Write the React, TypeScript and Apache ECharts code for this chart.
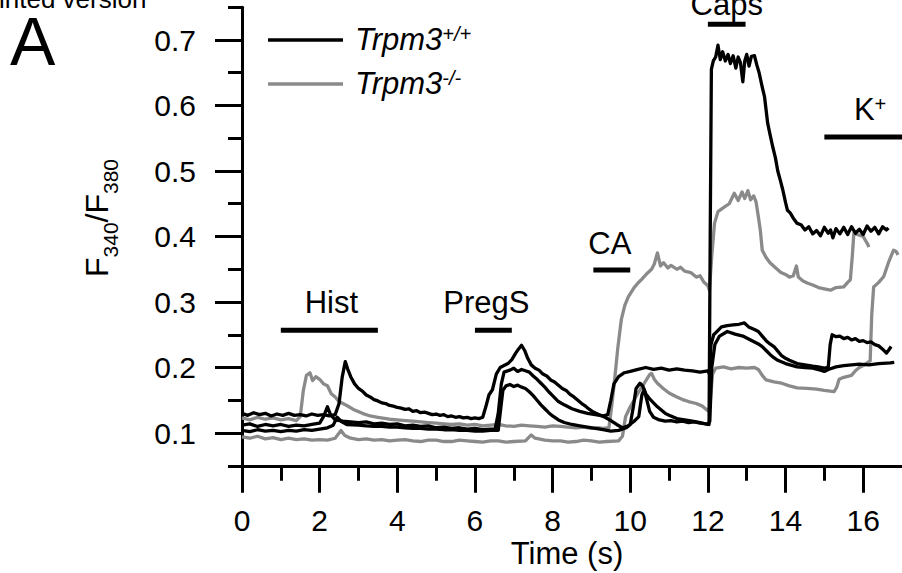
import React, { useEffect, useRef } from "react";
import * as echarts from "echarts";

const FONT = "'Liberation Sans', Arial, Helvetica, sans-serif";
const BLACK = "#000000";
const GRAY = "#8a8a8a";

// axis ticks
const xMajorTicks = [0, 2, 4, 6, 8, 10, 12, 14, 16];
const xMinorTicks = [1, 3, 5, 7, 9, 11, 13, 15];
const yMajorTicks = [0.1, 0.2, 0.3, 0.4, 0.5, 0.6, 0.7];
const yMinorTicks = [0.05, 0.15, 0.25, 0.35, 0.45, 0.55, 0.65, 0.75];

const groupNames = ["Trpm3+/+", "Trpm3-/-"];

// Trpm3+/+ traces (black) [time s, F340/F380]
const wt1 = [
  [0, 0.13], [0.15, 0.127], [0.3, 0.131], [0.45, 0.128], [0.6, 0.13], [0.75, 0.126], [0.9, 0.129], [1.05, 0.127],
  [1.2, 0.13], [1.35, 0.127], [1.5, 0.128], [1.65, 0.126], [1.8, 0.129], [1.95, 0.127], [2.1, 0.128], [2.25, 0.126],
  [2.4, 0.128], [2.5, 0.145], [2.58, 0.185], [2.66, 0.209], [2.72, 0.198], [2.8, 0.186], [2.9, 0.175], [3.0, 0.168],
  [3.1, 0.164], [3.2, 0.158], [3.3, 0.155], [3.4, 0.151], [3.5, 0.149], [3.6, 0.146], [3.7, 0.145], [3.8, 0.142],
  [3.9, 0.141], [4.0, 0.139], [4.1, 0.138], [4.2, 0.136], [4.3, 0.137], [4.4, 0.133], [4.5, 0.134], [4.6, 0.131],
  [4.7, 0.132], [4.8, 0.13], [4.9, 0.128], [5.0, 0.129], [5.1, 0.127], [5.2, 0.128], [5.3, 0.125], [5.4, 0.126],
  [5.5, 0.124], [5.6, 0.125], [5.7, 0.123], [5.8, 0.124], [5.9, 0.122], [6.0, 0.123], [6.1, 0.122], [6.2, 0.124],
  [6.28, 0.14], [6.36, 0.158], [6.45, 0.166], [6.55, 0.19], [6.65, 0.2], [6.75, 0.203], [6.85, 0.206], [6.95, 0.212],
  [7.05, 0.222], [7.12, 0.228], [7.2, 0.234], [7.28, 0.226], [7.36, 0.214], [7.45, 0.204], [7.55, 0.199], [7.65, 0.196],
  [7.75, 0.19], [7.85, 0.187], [7.95, 0.181], [8.05, 0.178], [8.15, 0.173], [8.25, 0.168], [8.35, 0.165], [8.45, 0.159],
  [8.55, 0.155], [8.65, 0.15], [8.75, 0.145], [8.85, 0.141], [8.95, 0.136], [9.05, 0.132], [9.2, 0.128], [9.35, 0.124],
  [9.5, 0.119], [9.65, 0.113], [9.8, 0.108], [9.95, 0.111], [10.1, 0.118], [10.22, 0.125], [10.3, 0.158], [10.36, 0.166],
  [10.42, 0.152], [10.5, 0.133], [10.6, 0.124], [10.75, 0.12], [10.9, 0.118], [11.05, 0.119], [11.2, 0.117], [11.35, 0.118],
  [11.5, 0.116], [11.65, 0.117], [11.8, 0.115], [11.95, 0.114], [12.03, 0.113], [12.06, 0.4], [12.09, 0.655], [12.14, 0.668],
  [12.2, 0.674], [12.26, 0.692], [12.32, 0.67], [12.38, 0.682], [12.45, 0.668], [12.52, 0.678], [12.58, 0.664], [12.65, 0.676],
  [12.72, 0.657], [12.78, 0.674], [12.84, 0.665], [12.9, 0.636], [12.95, 0.668], [13.0, 0.678], [13.06, 0.66], [13.12, 0.675],
  [13.2, 0.676], [13.26, 0.662], [13.32, 0.65], [13.4, 0.628], [13.46, 0.613], [13.54, 0.573], [13.6, 0.556], [13.67, 0.537],
  [13.74, 0.52], [13.8, 0.5], [13.87, 0.485], [13.93, 0.471], [14.0, 0.452], [14.05, 0.44], [14.12, 0.436], [14.2, 0.428],
  [14.3, 0.42], [14.4, 0.418], [14.5, 0.41], [14.6, 0.415], [14.7, 0.404], [14.8, 0.409], [14.9, 0.401], [15.0, 0.414],
  [15.1, 0.405], [15.16, 0.41], [15.22, 0.398], [15.3, 0.412], [15.4, 0.404], [15.5, 0.414], [15.6, 0.403], [15.7, 0.415],
  [15.8, 0.405], [15.9, 0.411], [16.0, 0.403], [16.1, 0.416], [16.2, 0.408], [16.3, 0.414], [16.4, 0.404], [16.5, 0.415],
  [16.6, 0.41], [16.65, 0.413],
];

const wt2 = [
  [0, 0.112], [0.2, 0.114], [0.4, 0.11], [0.6, 0.113], [0.8, 0.111], [1.0, 0.113], [1.2, 0.11], [1.4, 0.112],
  [1.6, 0.111], [1.8, 0.113], [2.0, 0.115], [2.1, 0.125], [2.2, 0.14], [2.28, 0.128], [2.4, 0.12], [2.6, 0.118],
  [2.8, 0.117], [3.0, 0.116], [3.2, 0.117], [3.4, 0.114], [3.6, 0.115], [3.8, 0.113], [4.0, 0.114], [4.2, 0.111],
  [4.4, 0.112], [4.6, 0.11], [4.8, 0.111], [5.0, 0.108], [5.2, 0.109], [5.4, 0.107], [5.6, 0.108], [5.8, 0.106],
  [6.0, 0.107], [6.2, 0.105], [6.4, 0.106], [6.52, 0.106], [6.6, 0.13], [6.68, 0.175], [6.75, 0.193], [6.9, 0.196],
  [7.0, 0.199], [7.1, 0.194], [7.2, 0.197], [7.3, 0.195], [7.4, 0.193], [7.5, 0.187], [7.6, 0.182], [7.7, 0.176],
  [7.8, 0.17], [7.9, 0.163], [8.0, 0.157], [8.15, 0.148], [8.3, 0.143], [8.5, 0.137], [8.7, 0.133], [8.9, 0.13],
  [9.1, 0.128], [9.3, 0.126], [9.42, 0.128], [9.5, 0.15], [9.58, 0.175], [9.7, 0.186], [9.85, 0.192], [10.0, 0.194],
  [10.2, 0.197], [10.4, 0.2], [10.6, 0.197], [10.8, 0.199], [11.0, 0.196], [11.2, 0.198], [11.4, 0.196], [11.6, 0.195],
  [11.8, 0.193], [12.0, 0.195], [12.04, 0.19], [12.08, 0.235], [12.15, 0.25], [12.25, 0.256], [12.35, 0.262], [12.5, 0.264],
  [12.65, 0.265], [12.8, 0.266], [12.94, 0.268], [13.05, 0.262], [13.2, 0.258], [13.3, 0.255], [13.4, 0.248], [13.5, 0.241],
  [13.6, 0.236], [13.7, 0.232], [13.8, 0.225], [13.9, 0.218], [14.0, 0.214], [14.1, 0.211], [14.3, 0.206], [14.5, 0.204],
  [14.7, 0.202], [14.84, 0.201], [15.0, 0.199], [15.1, 0.2], [15.15, 0.235], [15.2, 0.25], [15.3, 0.247], [15.4, 0.248],
  [15.5, 0.244], [15.6, 0.246], [15.7, 0.242], [15.8, 0.244], [15.9, 0.24], [16.0, 0.241], [16.1, 0.238], [16.2, 0.239],
  [16.3, 0.235], [16.4, 0.233], [16.5, 0.228], [16.6, 0.222], [16.65, 0.226], [16.72, 0.232],
];

const wt3 = [
  [0, 0.104], [0.2, 0.102], [0.4, 0.105], [0.6, 0.103], [0.8, 0.104], [1.0, 0.102], [1.2, 0.104], [1.4, 0.103],
  [1.6, 0.105], [1.8, 0.104], [2.0, 0.106], [2.2, 0.108], [2.35, 0.112], [2.45, 0.124], [2.55, 0.118], [2.7, 0.113],
  [3.0, 0.112], [3.2, 0.111], [3.4, 0.11], [3.6, 0.11], [3.8, 0.109], [4.0, 0.109], [4.2, 0.108], [4.4, 0.107],
  [4.6, 0.107], [4.8, 0.106], [5.0, 0.106], [5.2, 0.105], [5.4, 0.105], [5.6, 0.104], [5.8, 0.104], [6.0, 0.103],
  [6.2, 0.103], [6.4, 0.104], [6.6, 0.104], [6.65, 0.13], [6.72, 0.165], [6.8, 0.172], [6.9, 0.174], [7.0, 0.171],
  [7.1, 0.173], [7.2, 0.17], [7.3, 0.168], [7.4, 0.163], [7.5, 0.157], [7.6, 0.15], [7.7, 0.143], [7.8, 0.137],
  [7.9, 0.131], [8.0, 0.126], [8.15, 0.12], [8.3, 0.116], [8.5, 0.113], [8.7, 0.111], [8.9, 0.109], [9.1, 0.107],
  [9.3, 0.105], [9.5, 0.103], [9.7, 0.104], [9.9, 0.108], [10.0, 0.113], [10.08, 0.14], [10.15, 0.168], [10.25, 0.176],
  [10.32, 0.172], [10.4, 0.16], [10.5, 0.152], [10.6, 0.146], [10.7, 0.14], [10.8, 0.135], [10.9, 0.13], [11.0, 0.127],
  [11.2, 0.122], [11.4, 0.12], [11.6, 0.118], [11.8, 0.116], [12.0, 0.113], [12.05, 0.118], [12.1, 0.2], [12.18, 0.235],
  [12.3, 0.248], [12.5, 0.255], [12.7, 0.251], [12.9, 0.248], [13.1, 0.242], [13.3, 0.236], [13.4, 0.232], [13.5, 0.226],
  [13.6, 0.22], [13.7, 0.215], [13.8, 0.211], [14.0, 0.206], [14.3, 0.201], [14.5, 0.2], [14.7, 0.199], [14.9, 0.196],
  [15.0, 0.194], [15.1, 0.197], [15.3, 0.201], [15.5, 0.203], [15.7, 0.204], [15.9, 0.205], [16.15, 0.204], [16.4, 0.206],
  [16.7, 0.207], [16.8, 0.208],
];

// Trpm3-/- traces (gray)
const ko1 = [
  [0, 0.123], [0.2, 0.12], [0.4, 0.124], [0.6, 0.121], [0.8, 0.123], [1.0, 0.12], [1.2, 0.122], [1.4, 0.119],
  [1.5, 0.125], [1.58, 0.165], [1.66, 0.188], [1.75, 0.192], [1.82, 0.18], [1.9, 0.186], [2.0, 0.182], [2.1, 0.175],
  [2.2, 0.172], [2.3, 0.16], [2.4, 0.155], [2.5, 0.148], [2.7, 0.142], [2.9, 0.135], [3.1, 0.13], [3.3, 0.126],
  [3.5, 0.124], [3.8, 0.121], [4.0, 0.12], [4.2, 0.119], [4.4, 0.118], [4.6, 0.117], [4.8, 0.116], [5.0, 0.115],
  [5.2, 0.114], [5.4, 0.113], [5.6, 0.114], [5.8, 0.112], [6.0, 0.113], [6.2, 0.111], [6.4, 0.112], [6.6, 0.113],
  [6.8, 0.111], [7.0, 0.11], [7.2, 0.112], [7.4, 0.111], [7.6, 0.11], [7.8, 0.109], [8.0, 0.111], [8.2, 0.11],
  [8.4, 0.109], [8.6, 0.108], [8.8, 0.109], [9.0, 0.107], [9.2, 0.108], [9.3, 0.107], [9.45, 0.108], [9.52, 0.14],
  [9.58, 0.171], [9.68, 0.23], [9.77, 0.273], [9.86, 0.295], [9.95, 0.308], [10.1, 0.322], [10.2, 0.329], [10.3, 0.335],
  [10.44, 0.344], [10.55, 0.35], [10.62, 0.358], [10.7, 0.375], [10.78, 0.355], [10.86, 0.36], [10.97, 0.352], [11.05, 0.356],
  [11.2, 0.35], [11.3, 0.353], [11.4, 0.347], [11.56, 0.345], [11.7, 0.338], [11.8, 0.34], [11.9, 0.33], [12.0, 0.325],
  [12.04, 0.318], [12.1, 0.37], [12.17, 0.42], [12.26, 0.438], [12.4, 0.444], [12.55, 0.45], [12.68, 0.466], [12.78, 0.455],
  [12.88, 0.468], [12.95, 0.458], [13.03, 0.47], [13.1, 0.456], [13.18, 0.462], [13.24, 0.453], [13.3, 0.43], [13.35, 0.41],
  [13.4, 0.379], [13.5, 0.368], [13.6, 0.36], [13.75, 0.352], [13.88, 0.345], [14.0, 0.342], [14.1, 0.338], [14.2, 0.34],
  [14.28, 0.355], [14.33, 0.338], [14.45, 0.332], [14.56, 0.329], [14.7, 0.326], [14.85, 0.322], [15.0, 0.32], [15.16, 0.318],
  [15.3, 0.322], [15.5, 0.323], [15.6, 0.33], [15.67, 0.334], [15.72, 0.37], [15.76, 0.405], [15.85, 0.403], [16.0, 0.4],
  [16.1, 0.39], [16.15, 0.384],
];

const ko2 = [
  [0, 0.094], [0.2, 0.092], [0.4, 0.095], [0.6, 0.091], [0.8, 0.093], [1.0, 0.09], [1.2, 0.092], [1.4, 0.09],
  [1.6, 0.091], [1.8, 0.089], [2.0, 0.09], [2.2, 0.089], [2.4, 0.092], [2.55, 0.104], [2.65, 0.096], [2.8, 0.092],
  [3.0, 0.09], [3.2, 0.091], [3.4, 0.089], [3.6, 0.09], [3.8, 0.088], [4.0, 0.089], [4.2, 0.09], [4.4, 0.088],
  [4.6, 0.087], [4.8, 0.089], [5.0, 0.089], [5.2, 0.087], [5.4, 0.087], [5.6, 0.089], [5.8, 0.088], [6.0, 0.087],
  [6.2, 0.086], [6.4, 0.088], [6.6, 0.088], [6.8, 0.086], [7.0, 0.087], [7.3, 0.088], [7.45, 0.097], [7.55, 0.092],
  [7.8, 0.089], [8.0, 0.088], [8.2, 0.088], [8.4, 0.086], [8.6, 0.087], [8.8, 0.089], [9.0, 0.088], [9.2, 0.086],
  [9.4, 0.087], [9.7, 0.088], [9.8, 0.095], [9.88, 0.125], [10.0, 0.14], [10.1, 0.15], [10.2, 0.161], [10.35, 0.175],
  [10.5, 0.189], [10.55, 0.191], [10.62, 0.182], [10.7, 0.176], [10.85, 0.168], [11.0, 0.161], [11.2, 0.155], [11.35, 0.151],
  [11.5, 0.148], [11.7, 0.145], [11.86, 0.141], [12.0, 0.134], [12.05, 0.14], [12.12, 0.19], [12.2, 0.199], [12.4, 0.201],
  [12.6, 0.198], [12.8, 0.2], [13.0, 0.199], [13.2, 0.2], [13.3, 0.197], [13.4, 0.188], [13.5, 0.181], [13.7, 0.178],
  [13.9, 0.176], [14.1, 0.172], [14.3, 0.169], [14.55, 0.168], [14.8, 0.167], [15.0, 0.165], [15.25, 0.163], [15.32, 0.17],
  [15.38, 0.182], [15.5, 0.185], [15.7, 0.188], [15.8, 0.195], [15.9, 0.2], [16.0, 0.203], [16.1, 0.207], [16.18, 0.21],
  [16.22, 0.28], [16.27, 0.323], [16.4, 0.33], [16.53, 0.339], [16.65, 0.36], [16.78, 0.379], [16.85, 0.377], [16.9, 0.372],
];

// stimulus application bars
const stimNames = ["Hist", "PregS", "CA", "Caps", "K+"];
const stimStart = [1.0, 6.0, 9.05, 12.0, 15.0];
const stimEnd = [3.5, 6.95, 10.0, 12.97, 17.2];
const stimLevel = [0.257, 0.257, 0.349, 0.724, 0.552];

const labelGap: Record<string, number> = { Hist: 12, PregS: 12, CA: 11, Caps: 4, "K+": 9 };
const labelShift: Record<string, number> = { Hist: 2, PregS: -7, CA: -2, Caps: 0, "K+": 3 };

function measure(text: string, font: string): number {
  const ctx = document.createElement("canvas").getContext("2d");
  if (!ctx) return text.length * 16;
  ctx.font = font;
  return ctx.measureText(text).width;
}

function traceSeries(data: number[][], color: string, name: string) {
  return {
    type: "line",
    name,
    data,
    showSymbol: false,
    symbol: "none",
    silent: true,
    lineStyle: { color, width: 3.3, join: "round" },
    z: color === BLACK ? 4 : 3,
  };
}

export default function App() {
  const ref = useRef<HTMLDivElement>(null);

  useEffect(() => {
    if (!ref.current) return;
    const chart = echarts.init(ref.current, undefined, { renderer: "svg" });

    const series: any[] = [
      traceSeries(ko1, GRAY, groupNames[1]),
      traceSeries(ko2, GRAY, groupNames[1]),
      traceSeries(wt3, BLACK, groupNames[0]),
      traceSeries(wt2, BLACK, groupNames[0]),
      traceSeries(wt1, BLACK, groupNames[0]),
    ];

    stimNames.forEach((n, i) => {
      series.push({
        type: "line",
        data: [
          [stimStart[i], stimLevel[i]],
          [stimEnd[i], stimLevel[i]],
        ],
        symbol: "none",
        silent: true,
        lineStyle: { color: BLACK, width: 5, cap: "butt" },
        z: 5,
      });
    });

    series.push({
      type: "scatter",
      symbolSize: 0,
      silent: true,
      itemStyle: { color: BLACK, opacity: 0 },
      z: 6,
      data: stimNames.map((n, i) => ({
        value: [(stimStart[i] + stimEnd[i]) / 2, stimLevel[i]],
        name: n,
        label: {
          show: true,
          position: "top",
          distance: labelGap[n],
          offset: [labelShift[n], 0],
          formatter: n === "K+" ? "{a|K}{s|+}" : n,
          color: "#000000",
          opacity: 1,
          textBorderWidth: 0,
          fontSize: 31,
          fontFamily: FONT,
          rich: {
            a: { fontSize: 31, fontFamily: FONT, color: "#000000", lineHeight: 34, verticalAlign: "top" },
            s: { fontSize: 20, fontFamily: FONT, color: "#000000", lineHeight: 20, verticalAlign: "top" },
          },
        },
      })),
    });

    const axisLineStyle = { color: BLACK, width: 3 };

    // y-axis title with subscripts, laid out piece by piece
    const mainFont = `32px ${FONT}`;
    const subFont = `21px ${FONT}`;
    const titleParts = [
      { t: "F", sub: false },
      { t: "340", sub: true },
      { t: "/F", sub: false },
      { t: "380", sub: true },
    ];
    const widths = titleParts.map((p) => measure(p.t, p.sub ? subFont : mainFont));
    const total = widths.reduce((a, b) => a + b, 0);
    let cursor = -total / 2;
    const titleChildren = titleParts.map((p, i) => {
      const el = {
        type: "text",
        x: cursor,
        y: p.sub ? 13 : 0,
        style: {
          text: p.t,
          fontSize: p.sub ? 21 : 32,
          fontFamily: FONT,
          fill: BLACK,
          align: "left",
          textAlign: "left",
          verticalAlign: "middle",
          textVerticalAlign: "middle",
        },
      };
      cursor += widths[i];
      return el;
    });

    const option: any = {
      animation: false,
      backgroundColor: "#ffffff",
      grid: { left: 242, top: 7.25, width: 663, height: 458.5, containLabel: false },
      xAxis: [
        {
          type: "value",
          min: 0,
          max: 17,
          position: "bottom",
          axisLine: { show: true, onZero: false, lineStyle: axisLineStyle },
          axisTick: { show: true, inside: false, length: 27, lineStyle: axisLineStyle, customValues: xMajorTicks },
          axisLabel: {
            show: true,
            customValues: xMajorTicks,
            margin: 40,
            fontSize: 30,
            color: BLACK,
            fontFamily: FONT,
          },
          splitLine: { show: false },
        },
        {
          type: "value",
          min: 0,
          max: 17,
          position: "bottom",
          axisLine: { show: false },
          axisTick: { show: true, inside: false, length: 15, lineStyle: axisLineStyle, customValues: xMinorTicks },
          axisLabel: { show: false },
          splitLine: { show: false },
        },
      ],
      yAxis: [
        {
          type: "value",
          min: 0.05,
          max: 0.75,
          position: "left",
          axisLine: { show: true, onZero: false, lineStyle: axisLineStyle },
          axisTick: { show: true, inside: false, length: 27, lineStyle: axisLineStyle, customValues: yMajorTicks },
          axisLabel: {
            show: true,
            customValues: yMajorTicks,
            margin: 46,
            fontSize: 30,
            color: BLACK,
            fontFamily: FONT,
            formatter: (v: number) => v.toFixed(1),
          },
          splitLine: { show: false },
        },
        {
          type: "value",
          min: 0.05,
          max: 0.75,
          position: "left",
          axisLine: { show: false },
          axisTick: { show: true, inside: false, length: 14, lineStyle: axisLineStyle, customValues: yMinorTicks },
          axisLabel: { show: false },
          splitLine: { show: false },
        },
      ],
      series,
      graphic: [
        {
          type: "text",
          x: -27,
          y: -1,
          style: {
            text: "Printed version",
            fontSize: 26,
            fontFamily: FONT,
            fill: BLACK,
            align: "left",
            textAlign: "left",
            verticalAlign: "middle",
            textVerticalAlign: "middle",
          },
        },
        {
          type: "text",
          x: 10,
          y: 41,
          style: {
            text: "A",
            fontSize: 68,
            fontFamily: FONT,
            fill: BLACK,
            align: "left",
            textAlign: "left",
            verticalAlign: "middle",
            textVerticalAlign: "middle",
          },
        },
        { type: "line", shape: { x1: 268, y1: 40, x2: 343, y2: 40 }, style: { stroke: BLACK, lineWidth: 3.3 } },
        { type: "line", shape: { x1: 268, y1: 84, x2: 343, y2: 84 }, style: { stroke: GRAY, lineWidth: 3.3 } },
        {
          type: "text",
          x: 355,
          y: 41,
          style: {
            text: "{i|Trpm3}{s|+/+}",
            fill: BLACK,
            align: "left",
            textAlign: "left",
            verticalAlign: "middle",
            textVerticalAlign: "middle",
            rich: {
              i: { fontSize: 31, fontStyle: "italic", fontFamily: FONT, fill: BLACK, lineHeight: 34, verticalAlign: "top" },
              s: { fontSize: 20, fontStyle: "italic", fontFamily: FONT, fill: BLACK, lineHeight: 19, verticalAlign: "top" },
            },
          },
        },
        {
          type: "text",
          x: 355,
          y: 85,
          style: {
            text: "{i|Trpm3}{s|-/-}",
            fill: BLACK,
            align: "left",
            textAlign: "left",
            verticalAlign: "middle",
            textVerticalAlign: "middle",
            rich: {
              i: { fontSize: 31, fontStyle: "italic", fontFamily: FONT, fill: BLACK, lineHeight: 34, verticalAlign: "top" },
              s: { fontSize: 20, fontStyle: "italic", fontFamily: FONT, fill: BLACK, lineHeight: 19, verticalAlign: "top" },
            },
          },
        },
        {
          type: "group",
          x: 97,
          y: 218,
          rotation: Math.PI / 2,
          children: titleChildren,
        },
        {
          type: "text",
          x: 567,
          y: 553,
          style: {
            text: "Time (s)",
            fontSize: 31,
            fontFamily: FONT,
            fill: BLACK,
            align: "center",
            textAlign: "center",
            verticalAlign: "middle",
            textVerticalAlign: "middle",
          },
        },
      ],
    };

    chart.setOption(option);
    return () => chart.dispose();
  }, []);

  return (
    <div
      ref={ref}
      style={{ position: "fixed", left: 0, top: 0, width: 902, height: 573, background: "#ffffff" }}
    />
  );
}
